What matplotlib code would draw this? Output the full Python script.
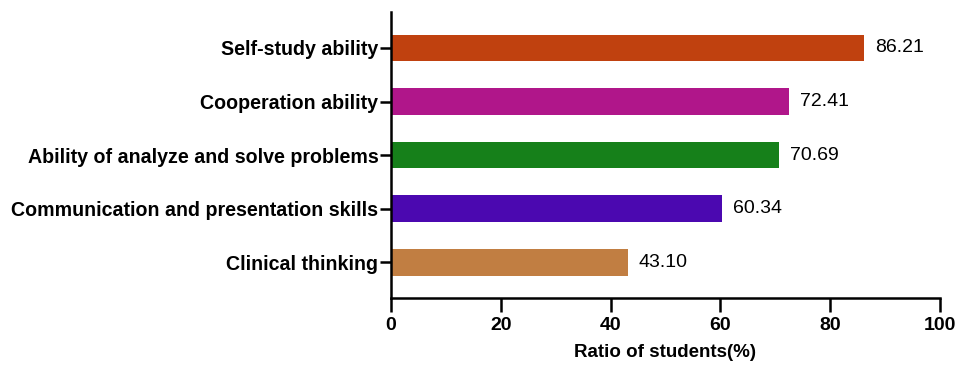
import matplotlib.pyplot as plt
import numpy as np

plt.rcParams['font.family'] = ['Liberation Sans', 'DejaVu Sans']

# Data (bottom to top)
skills = ["Clinical thinking", "Communication and presentation skills",
          "Ability of analyze and solve problems", "Cooperation ability",
          "Self-study ability"]
ratios = [43.10, 60.34, 70.69, 72.41, 86.21]
colors = ["#C17E42", "#4B08B0", "#16801A", "#B0168A", "#C0410F"]

fig = plt.figure(figsize=(9.64, 3.67), dpi=100)
ax = fig.add_axes([0.4056, 0.188, 0.5695, 0.779])

y = np.arange(len(skills))
ax.barh(y, ratios, height=0.5, color=colors)

for yi, v in zip(y, ratios):
    ax.text(v + 2.0, yi, f"{v:.2f}", va="center", ha="left", fontsize=14)

ax.set_xlim(0, 100)
ax.set_ylim(-0.67, 4.67)
ax.set_xticks([0, 20, 40, 60, 80, 100])
ax.set_yticks(y)
ax.set_yticklabels(skills, fontweight="bold", fontsize=14.1)
for lbl in ax.get_xticklabels():
    lbl.set_fontweight("bold")
    lbl.set_fontsize(14)
ax.set_xlabel("Ratio of students(%)", fontweight="bold", fontsize=13.5, labelpad=7)

ax.spines["top"].set_visible(False)
ax.spines["right"].set_visible(False)
ax.spines["left"].set_linewidth(1.8)
ax.spines["bottom"].set_linewidth(1.8)
ax.tick_params(axis="y", width=1.8, length=8, pad=1)
ax.tick_params(axis="x", width=1.8, length=10, pad=4)

plt.savefig("out.png", dpi=100)
